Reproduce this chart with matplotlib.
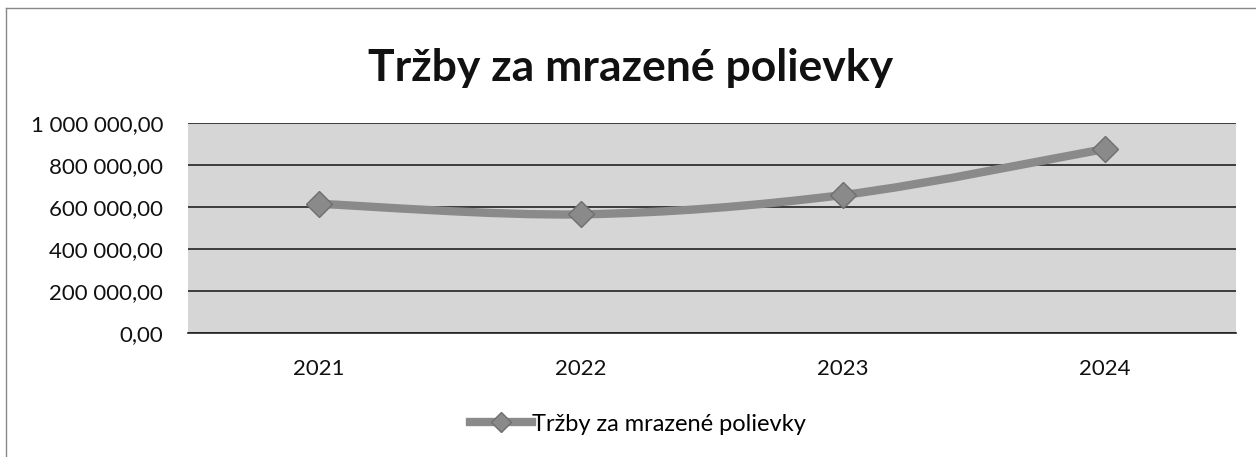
import matplotlib.pyplot as plt
import numpy as np
from matplotlib.path import Path
from matplotlib.patches import PathPatch
from matplotlib.lines import Line2D
from matplotlib.ticker import FuncFormatter

plt.rcParams['font.family'] = ['Lato', 'DejaVu Sans']

years = ["2021", "2022", "2023", "2024"]
sales = [615000, 565000, 657000, 876000]
title = "Tržby za mrazené polievky"
series_name = "Tržby za mrazené polievky"

line_color = "#8a8a8a"
face_color = "#d6d6d6"


def fmt(v, pos):
    s = "{:,.2f}".format(v)
    return s.replace(",", " ").replace(".", ",")


def smooth_path(x, y):
    # catmull-rom style bezier, like excel's smoothed line
    verts = [(x[0], y[0])]
    codes = [Path.MOVETO]
    n = len(x)
    for i in range(n - 1):
        x0, y0 = (x[i - 1], y[i - 1]) if i > 0 else (x[i], y[i])
        x3, y3 = (x[i + 2], y[i + 2]) if i + 2 < n else (x[i + 1], y[i + 1])
        c1 = (x[i] + (x[i + 1] - x0) / 6, y[i] + (y[i + 1] - y0) / 6)
        c2 = (x[i + 1] - (x3 - x[i]) / 6, y[i + 1] - (y3 - y[i]) / 6)
        verts += [c1, c2, (x[i + 1], y[i + 1])]
        codes += [Path.CURVE4] * 3
    return Path(verts, codes)


fig = plt.figure(figsize=(12.56, 4.57), dpi=100)
ax = fig.add_axes([0.1497, 0.2713, 0.834, 0.4596])
ax.set_facecolor(face_color)

x = np.arange(len(years))
ax.add_patch(PathPatch(smooth_path(x, sales), fill=False, edgecolor=line_color,
                       lw=6, capstyle='round', zorder=3))
ax.plot(x, sales, ls='none', marker='D', ms=13, color=line_color,
        markeredgecolor="#6f6f6f", zorder=4)

ax.set_xlim(-0.5, len(years) - 0.5)
ax.set_ylim(0, 1000000)
ax.set_yticks(np.arange(0, 1000001, 200000))
ax.yaxis.set_major_formatter(FuncFormatter(fmt))
ax.set_xticks(x)
ax.set_xticklabels(years)
ax.grid(axis='y', color='#222222', lw=1.2)
ax.set_axisbelow(True)
for side in ['left', 'right', 'top']:
    ax.spines[side].set_visible(False)
ax.spines['bottom'].set_color('#222222')
ax.spines['bottom'].set_linewidth(1.2)
ax.tick_params(axis='both', length=0, labelsize=16, colors='#111111')
ax.tick_params(axis='y', pad=18)
ax.tick_params(axis='x', pad=19)

fig.text(0.502, 0.852, title, ha='center', va='center', fontsize=32,
         fontweight='bold', color='#111111')

handle = Line2D([], [], color=line_color, lw=6, marker='D', ms=10,
                markeredgecolor="#6f6f6f")
fig.legend([handle], [series_name], loc='center', bbox_to_anchor=(0.508, 0.072),
           frameon=False, fontsize=17, handlelength=2.6, handletextpad=0.0)

# frame of the chart area (top and left edge visible in the scan)
fig.add_artist(Line2D([0.005, 1.0], [0.982, 0.982], transform=fig.transFigure,
                      color='#888888', lw=1))
fig.add_artist(Line2D([0.005, 0.005], [0.0, 0.982], transform=fig.transFigure,
                      color='#888888', lw=1))

fig.savefig("out.png", dpi=100)
